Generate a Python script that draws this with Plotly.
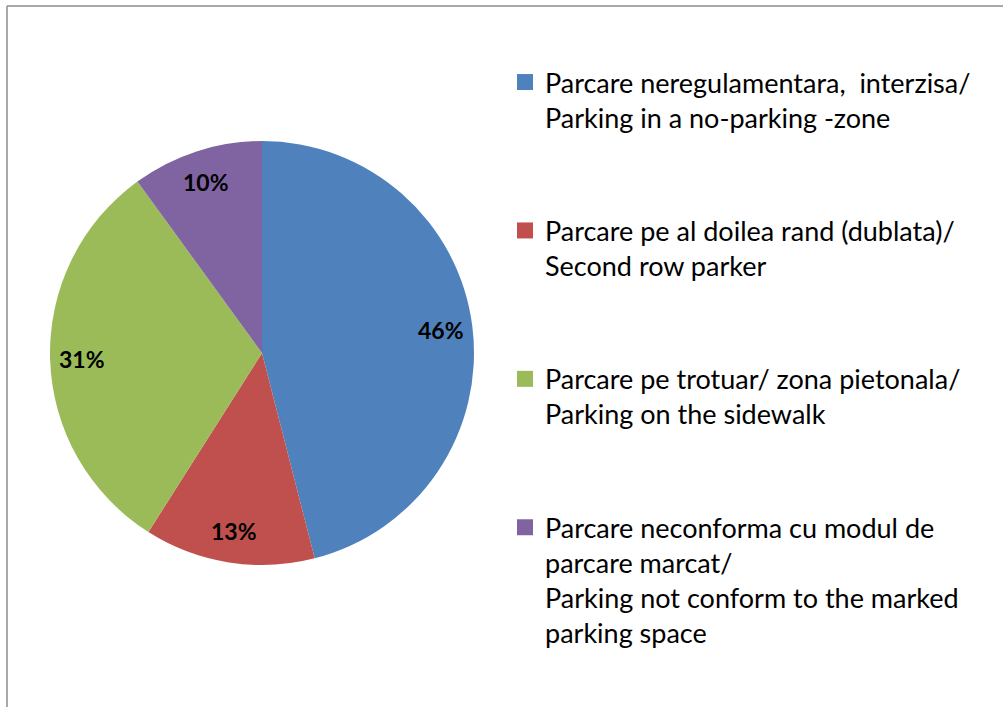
import math
import plotly.graph_objects as go

labels = [
    "Parcare neregulamentara,  interzisa/<br>Parking in a no-parking -zone",
    "Parcare pe al doilea rand (dublata)/<br>Second row parker",
    "Parcare pe trotuar/ zona pietonala/<br>Parking on the sidewalk",
    "Parcare neconforma cu modul de<br>parcare marcat/<br>Parking not conform to the marked<br>parking space",
]
values = [46, 13, 31, 10]
colors = ["#4F81BD", "#C0504D", "#9BBB59", "#8064A2"]

W, H = 1003, 707
cx, cy, R = 262, 353, 212
dom_x = [(cx - R) / W, (cx + R) / W]
dom_y = [1 - (cy + R) / H, 1 - (cy - R) / H]

def pad(t):
    n = t.count("<br>") + 1
    return t + "<br> " * max(0, 4 - n)

fig = go.Figure()
fig.add_trace(go.Pie(
    labels=labels,
    values=values,
    sort=False,
    direction="clockwise",
    rotation=0,
    marker=dict(colors=colors, line=dict(width=0)),
    textinfo="none",
    hoverinfo="skip",
    showlegend=False,
    domain=dict(x=dom_x, y=dom_y),
))

# legend entries (square markers)
for i, (lab, col) in enumerate(zip(labels, colors)):
    fig.add_trace(go.Scatter(
        x=[None], y=[None], mode="markers", name=pad(lab),
        legendgroup="g%d" % i,
        marker=dict(symbol="square", size=18, color=col),
        hoverinfo="skip",
    ))

# percentage labels placed along each slice's mid-angle
total = sum(values)
annotations = []
cum = 0
for v in values:
    mid = (cum + v / 2) / total * 2 * math.pi
    cum += v
    rr = 0.85 * R
    px = cx + rr * math.sin(mid)
    py = cy - rr * math.cos(mid)
    annotations.append(dict(
        x=px / W, y=1 - py / H, xref="paper", yref="paper",
        text="<b>%d%%</b>" % round(100 * v / total), showarrow=False,
        font=dict(family="Lato", size=23, color="black"),
        xanchor="center", yanchor="middle",
    ))

fig.update_layout(
    width=W, height=H,
    margin=dict(l=0, r=0, t=0, b=0),
    paper_bgcolor="white",
    plot_bgcolor="white",
    xaxis=dict(visible=False),
    yaxis=dict(visible=False),
    showlegend=True,
    legend=dict(
        x=505 / W, y=1 - 58 / H, xanchor="left", yanchor="top",
        font=dict(family="Lato", size=27, color="black"),
        valign="top",
        bgcolor="rgba(0,0,0,0)",
        itemwidth=30,
        tracegroupgap=5,
    ),
    annotations=annotations,
    shapes=[
        dict(type="line", xref="paper", yref="paper", x0=7 / W, x1=7 / W, y0=-0.02, y1=1 - 6 / H,
             line=dict(color="#8C8C8C", width=1.5)),
        dict(type="line", xref="paper", yref="paper", x0=7 / W, x1=1.02, y0=1 - 6 / H, y1=1 - 6 / H,
             line=dict(color="#8C8C8C", width=1.5)),
    ],
)

fig.write_html("out.html", config={"displayModeBar": False},
               post_script="document.body.style.margin='0px';")
